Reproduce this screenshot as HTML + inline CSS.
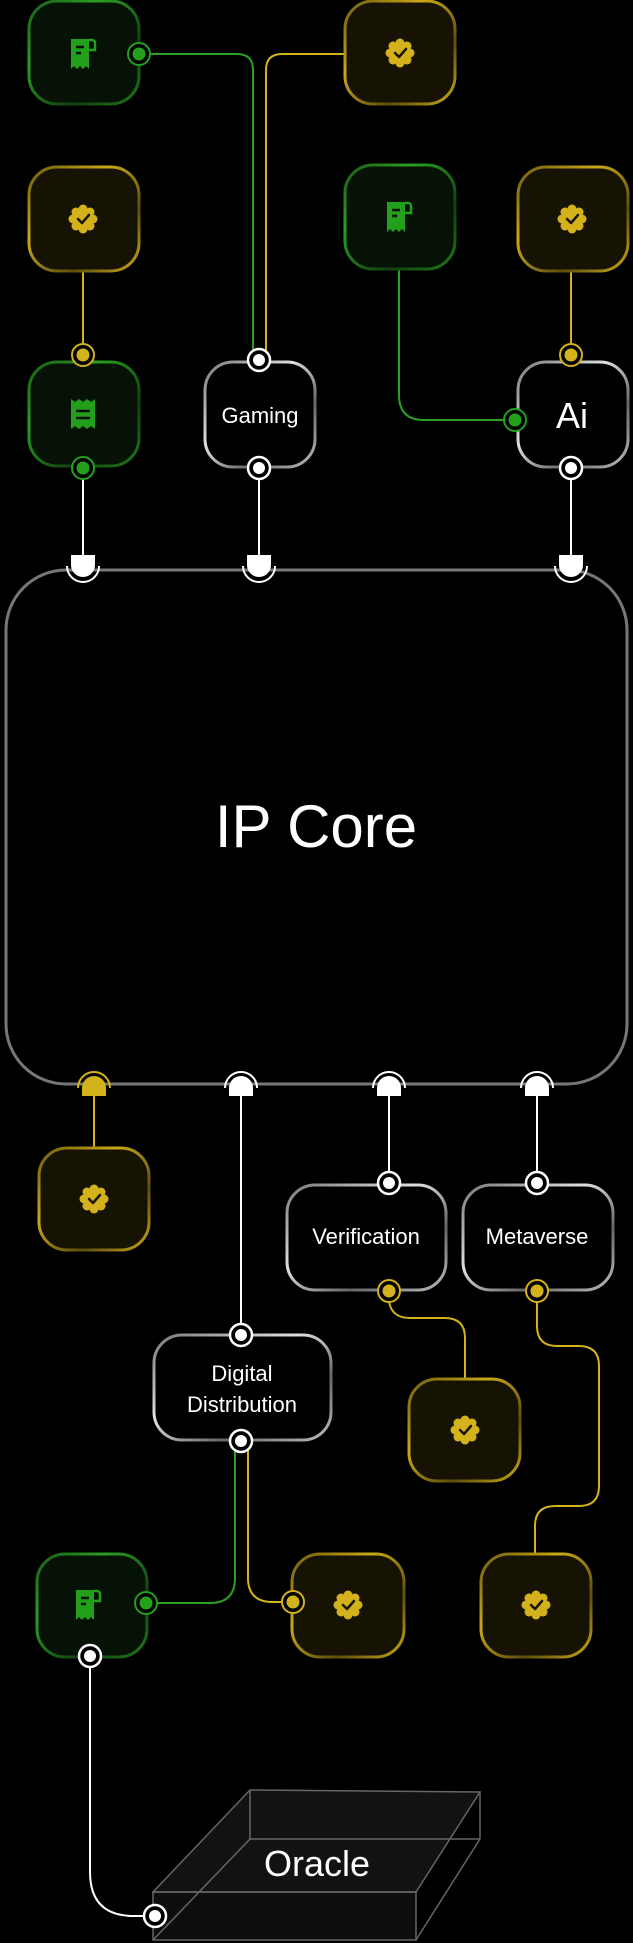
<!DOCTYPE html>
<html><head><meta charset="utf-8"><style>
html,body{margin:0;padding:0;background:#000;}
svg{display:block;}
text{font-family:"Liberation Sans",sans-serif;fill:#fff;}
</style></head><body>
<svg width="633" height="1943" viewBox="0 0 633 1943" xmlns="http://www.w3.org/2000/svg">
<defs>
  <linearGradient id="gG" x1="0" y1="0" x2="1" y2="1">
    <stop offset="0" stop-color="#1c5a16"/><stop offset="0.3" stop-color="#2aa022"/><stop offset="0.7" stop-color="#12400f"/><stop offset="1" stop-color="#1e7a18"/>
  </linearGradient>
  <linearGradient id="gY" x1="0" y1="0" x2="1" y2="1">
    <stop offset="0" stop-color="#6e5c10"/><stop offset="0.35" stop-color="#c9a816"/><stop offset="0.7" stop-color="#5e4e0c"/><stop offset="1" stop-color="#c9a816"/>
  </linearGradient>
  <linearGradient id="gW" x1="0" y1="0" x2="1" y2="1">
    <stop offset="0" stop-color="#777"/><stop offset="0.4" stop-color="#e0e0e0"/><stop offset="0.7" stop-color="#666"/><stop offset="1" stop-color="#bbb"/>
  </linearGradient>
  <linearGradient id="gCore" x1="0" y1="0" x2="1" y2="0">
    <stop offset="0" stop-color="#555"/><stop offset="0.5" stop-color="#eee"/><stop offset="1" stop-color="#555"/>
  </linearGradient>
  <g id="badge">
    <circle r="11" fill="#d4b21c"/>
    <circle cx="0" cy="-10" r="4.5" fill="#d4b21c"/><circle cx="0" cy="10" r="4.5" fill="#d4b21c"/>
    <circle cx="-10" cy="0" r="4.5" fill="#d4b21c"/><circle cx="10" cy="0" r="4.5" fill="#d4b21c"/>
    <circle cx="7" cy="7" r="4.5" fill="#d4b21c"/><circle cx="-7" cy="7" r="4.5" fill="#d4b21c"/>
    <circle cx="7" cy="-7" r="4.5" fill="#d4b21c"/><circle cx="-7" cy="-7" r="4.5" fill="#d4b21c"/>
    <polyline points="-5,0 -1,4 6,-4" fill="none" stroke="#1a1505" stroke-width="2.5" stroke-linecap="round" stroke-linejoin="round"/>
  </g>
  <g id="receipt">
    <path d="M-12,-15 H6 V15 L3,12 L0,15 L-3,12 L-6,15 L-9,12 L-12,15 Z" fill="#22a01c"/>
    <path d="M6,-14 H9 A3,3 0 0 1 12,-11 V-4 H6" fill="none" stroke="#22a01c" stroke-width="2.5"/>
    <line x1="-7" y1="-7" x2="1" y2="-7" stroke="#061206" stroke-width="2.5"/>
    <line x1="-7" y1="-1" x2="-2" y2="-1" stroke="#061206" stroke-width="2.5"/>
  </g>
  <g id="ticket">
    <path d="M-12,-15 L-8,-12 L-4,-15 L0,-12 L4,-15 L8,-12 L12,-15 V15 L8,12 L4,15 L0,12 L-4,15 L-8,12 L-12,15 Z" fill="#22a01c"/>
    <line x1="-7" y1="-3" x2="7" y2="-3" stroke="#061206" stroke-width="2.5"/>
    <line x1="-7" y1="4" x2="7" y2="4" stroke="#061206" stroke-width="2.5"/>
  </g>
  <g id="pw"><circle r="11" fill="#000" stroke="#fff" stroke-width="2.5"/><circle r="6" fill="#fff"/></g>
  <g id="pg"><circle r="11" fill="#000" stroke="#22a01c" stroke-width="2"/><circle r="6.5" fill="#22a01c"/></g>
  <g id="py"><circle r="11" fill="#000" stroke="#d4b21c" stroke-width="2"/><circle r="6.5" fill="#d4b21c"/></g>
</defs>

<!-- connectors -->
<g fill="none" stroke-width="2">
  <path d="M150,54 H237 Q253,54 253,70 V352" stroke="#2aa022"/>
  <path d="M344,54 H282 Q266,54 266,70 V352" stroke="#d4b21c"/>
  <path d="M83,271 V345" stroke="#d4b21c"/>
  <path d="M571,271 V345" stroke="#d4b21c"/>
  <path d="M399,269 V395 Q399,420 424,420 H504" stroke="#2aa022"/>
  <path d="M83,479 V556" stroke="#fff"/>
  <path d="M259,479 V556" stroke="#fff"/>
  <path d="M571,479 V556" stroke="#fff"/>
  <path d="M94,1090 V1148" stroke="#d4b21c"/>
  <path d="M241,1090 V1324" stroke="#fff"/>
  <path d="M389,1090 V1172" stroke="#fff"/>
  <path d="M537,1090 V1172" stroke="#fff"/>
  <path d="M389,1302 Q392,1318 410,1318 H445 Q465,1318 465,1338 V1379" stroke="#d4b21c"/>
  <path d="M537,1302 V1326 Q537,1346 557,1346 H579 Q599,1346 599,1366 V1486 Q599,1506 579,1506 H555 Q535,1506 535,1526 V1554" stroke="#d4b21c"/>
  <path d="M235,1450 V1578 Q235,1603 210,1603 H157" stroke="#2aa022"/>
  <path d="M248,1450 V1578 Q248,1602 273,1602 H282" stroke="#d4b21c"/>
  <path d="M90,1667 V1872 Q90,1916 134,1916 H144" stroke="#fff"/>
</g>

<!-- Core -->
<rect x="6" y="570" width="621" height="514" rx="60" fill="#000" stroke="#777" stroke-width="3"/>
<line x1="66" y1="570" x2="567" y2="570" stroke="url(#gCore)" stroke-width="3"/>
<line x1="66" y1="1084" x2="567" y2="1084" stroke="url(#gCore)" stroke-width="3"/>
<text x="316" y="847" font-size="60" text-anchor="middle">IP Core</text>

<!-- top sockets -->
<g>
  <g transform="translate(83,0)"><path d="M-16,566 A16,16 0 0 0 16,566" fill="none" stroke="#fff" stroke-width="2"/><path d="M-12,555 H12 V565 A12,12 0 0 1 -12,565 Z" fill="#fff"/></g>
  <g transform="translate(259,0)"><path d="M-16,566 A16,16 0 0 0 16,566" fill="none" stroke="#fff" stroke-width="2"/><path d="M-12,555 H12 V565 A12,12 0 0 1 -12,565 Z" fill="#fff"/></g>
  <g transform="translate(571,0)"><path d="M-16,566 A16,16 0 0 0 16,566" fill="none" stroke="#fff" stroke-width="2"/><path d="M-12,555 H12 V565 A12,12 0 0 1 -12,565 Z" fill="#fff"/></g>
</g>
<!-- bottom sockets -->
<g>
  <g transform="translate(94,0)"><path d="M-16,1088 A16,16 0 0 1 16,1088" fill="none" stroke="#d4b21c" stroke-width="2"/><path d="M-12,1096 V1088 A12,12 0 0 1 12,1088 V1096 Z" fill="#d4b21c"/></g>
  <g transform="translate(241,0)"><path d="M-16,1088 A16,16 0 0 1 16,1088" fill="none" stroke="#fff" stroke-width="2"/><path d="M-12,1096 V1088 A12,12 0 0 1 12,1088 V1096 Z" fill="#fff"/></g>
  <g transform="translate(389,0)"><path d="M-16,1088 A16,16 0 0 1 16,1088" fill="none" stroke="#fff" stroke-width="2"/><path d="M-12,1096 V1088 A12,12 0 0 1 12,1088 V1096 Z" fill="#fff"/></g>
  <g transform="translate(537,0)"><path d="M-16,1088 A16,16 0 0 1 16,1088" fill="none" stroke="#fff" stroke-width="2"/><path d="M-12,1096 V1088 A12,12 0 0 1 12,1088 V1096 Z" fill="#fff"/></g>
</g>

<!-- green boxes -->
<g fill="#061206" stroke="url(#gG)" stroke-width="3">
  <rect x="29" y="1" width="110" height="103" rx="28"/>
  <rect x="345" y="165" width="110" height="104" rx="28"/>
  <rect x="29" y="362" width="110" height="104" rx="28"/>
  <rect x="37" y="1554" width="110" height="103" rx="28"/>
</g>
<!-- yellow boxes -->
<g fill="#161204" stroke="url(#gY)" stroke-width="3">
  <rect x="345" y="1" width="110" height="103" rx="28"/>
  <rect x="29" y="167" width="110" height="104" rx="28"/>
  <rect x="518" y="167" width="110" height="104" rx="28"/>
  <rect x="39" y="1148" width="110" height="102" rx="28"/>
  <rect x="409" y="1379" width="111" height="102" rx="28"/>
  <rect x="292" y="1554" width="112" height="103" rx="28"/>
  <rect x="481" y="1554" width="110" height="103" rx="28"/>
</g>
<!-- gray boxes -->
<g fill="#000" stroke="url(#gW)" stroke-width="3">
  <rect x="205" y="362" width="110" height="105" rx="28"/>
  <rect x="518" y="362" width="110" height="105" rx="28"/>
  <rect x="287" y="1185" width="159" height="105" rx="28"/>
  <rect x="463" y="1185" width="150" height="105" rx="28"/>
  <rect x="154" y="1335" width="177" height="105" rx="28"/>
</g>

<!-- icons -->
<use href="#receipt" x="83" y="54"/>
<use href="#badge" x="400" y="53"/>
<use href="#badge" x="83" y="219"/>
<use href="#receipt" x="399" y="217"/>
<use href="#badge" x="572" y="219"/>
<use href="#ticket" x="83" y="414"/>
<use href="#badge" x="94" y="1199"/>
<use href="#badge" x="465" y="1430"/>
<use href="#badge" x="348" y="1605"/>
<use href="#badge" x="536" y="1605"/>
<use href="#receipt" x="88" y="1605"/>

<!-- labels -->
<text x="260" y="423" font-size="22" text-anchor="middle">Gaming</text>
<text x="572" y="428" font-size="36" text-anchor="middle">Ai</text>
<text x="366" y="1244" font-size="22" text-anchor="middle">Verification</text>
<text x="537" y="1244" font-size="22" text-anchor="middle">Metaverse</text>
<text x="242" y="1381" font-size="22" text-anchor="middle">Digital</text>
<text x="242" y="1412" font-size="22" text-anchor="middle">Distribution</text>

<!-- ports -->
<use href="#pg" x="139" y="54"/>
<use href="#pw" x="259" y="360"/>
<use href="#py" x="83" y="355"/>
<use href="#pg" x="83" y="468"/>
<use href="#pw" x="259" y="468"/>
<use href="#py" x="571" y="355"/>
<use href="#pw" x="571" y="468"/>
<use href="#pg" x="515" y="420"/>
<use href="#pw" x="389" y="1183"/>
<use href="#py" x="389" y="1291"/>
<use href="#pw" x="537" y="1183"/>
<use href="#py" x="537" y="1291"/>
<use href="#pw" x="241" y="1335"/>
<use href="#pw" x="241" y="1441"/>
<use href="#pg" x="146" y="1603"/>
<use href="#py" x="293" y="1602"/>
<use href="#pw" x="90" y="1656"/>

<!-- Oracle box -->
<g stroke="#666" stroke-width="1.5" fill="none">
  <polygon points="250,1790 480,1792 416,1892 153,1892" fill="rgba(255,255,255,0.07)"/>
  <rect x="153" y="1892" width="263" height="48" fill="rgba(255,255,255,0.05)"/>
  <line x1="480" y1="1792" x2="480" y2="1839"/>
  <line x1="250" y1="1790" x2="250" y2="1839"/>
  <line x1="250" y1="1839" x2="480" y2="1839"/>
  <line x1="480" y1="1839" x2="416" y2="1940"/>
  <line x1="250" y1="1839" x2="153" y2="1940"/>
</g>
<text x="317" y="1876" font-size="36" text-anchor="middle">Oracle</text>
<use href="#pw" x="155" y="1916"/>
</svg>
</body></html>
